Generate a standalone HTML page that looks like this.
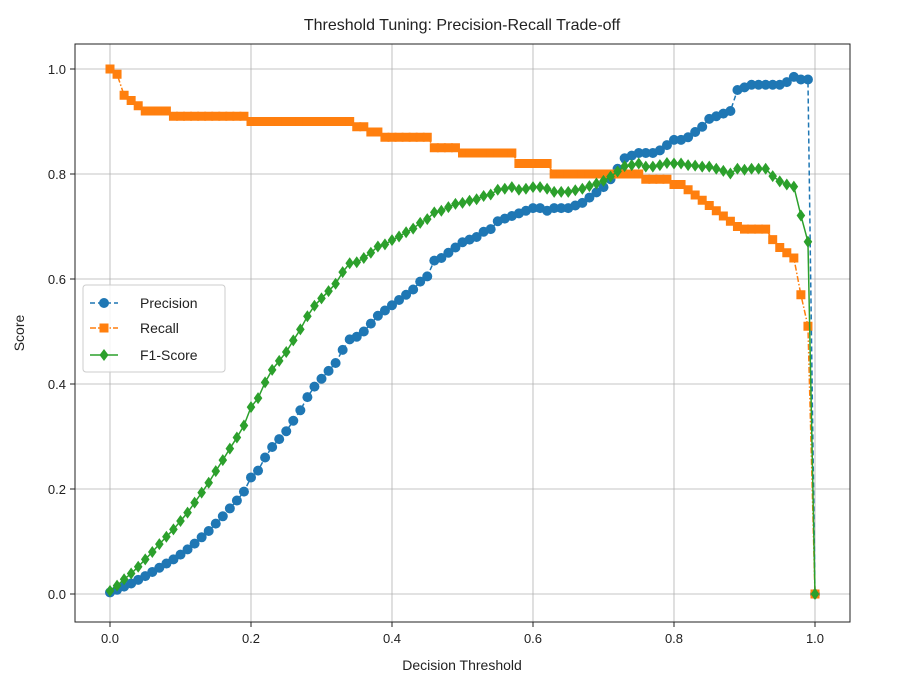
<!DOCTYPE html>
<html><head><meta charset="utf-8"><style>
body{margin:0;background:#fff}
svg text{font-family:"Liberation Sans","DejaVu Sans",sans-serif;fill:#222}
</style></head><body>
<svg id="chart" width="913" height="684" xmlns="http://www.w3.org/2000/svg">
<rect width="913" height="684" fill="#fff"/>
<text x="462" y="30" text-anchor="middle" font-size="16">Threshold Tuning: Precision-Recall Trade-off</text>
<g id="grid"></g>
<g id="series"></g>
<rect x="75" y="44" width="775" height="578" fill="none" stroke="#222" stroke-width="1"/>
<g id="ticks"></g>
<text x="462" y="670" text-anchor="middle" font-size="14">Decision Threshold</text>
<text x="24" y="333" text-anchor="middle" font-size="14" transform="rotate(-90 24 333)">Score</text>
<g>
<rect x="83" y="285" width="142" height="87" rx="3" fill="#fff" fill-opacity="0.85" stroke="#ccc"/>
<g>
<line x1="90" y1="303" x2="118" y2="303" stroke="#1f77b4" stroke-width="1.5" stroke-dasharray="5,3"/>
<circle cx="104" cy="303" r="5" fill="#1f77b4"/>
<text x="140" y="308" font-size="14">Precision</text></g>
<g>
<line x1="90" y1="328" x2="118" y2="328" stroke="#ff7f0e" stroke-width="1.5" stroke-dasharray="6,2,1.5,2"/>
<rect x="99.5" y="323.5" width="9" height="9" fill="#ff7f0e"/>
<text x="140" y="333" font-size="14">Recall</text></g>
<g>
<line x1="90" y1="355" x2="118" y2="355" stroke="#2ca02c" stroke-width="1.5"/>
<polygon points="104,349 108.5,355 104,361 99.5,355" fill="#2ca02c"/>
<text x="140" y="360" font-size="14">F1-Score</text></g>
</g>
</svg>
<script>
const xTicks=[0,0.2,0.4,0.6,0.8,1.0];
const xTickLabels=["0.0","0.2","0.4","0.6","0.8","1.0"];
const yTicks=[0,0.2,0.4,0.6,0.8,1.0];
const yTickLabels=["0.0","0.2","0.4","0.6","0.8","1.0"];
const precision=[0.003,0.008,0.014,0.02,0.027,0.034,0.042,0.05,0.058,0.066,
0.075,0.085,0.096,0.108,0.12,0.134,0.148,0.163,0.178,0.195,
0.222,0.235,0.26,0.28,0.295,0.31,0.33,0.35,0.375,0.395,
0.41,0.425,0.44,0.465,0.485,0.49,0.5,0.515,0.53,0.54,
0.55,0.56,0.57,0.58,0.595,0.605,0.635,0.64,0.65,0.66,
0.67,0.675,0.68,0.69,0.695,0.71,0.715,0.72,0.725,0.73,
0.735,0.735,0.73,0.735,0.735,0.735,0.74,0.745,0.755,0.765,
0.775,0.79,0.81,0.83,0.835,0.84,0.84,0.84,0.845,0.855,
0.865,0.865,0.87,0.88,0.89,0.905,0.91,0.915,0.92,0.96,
0.965,0.97,0.97,0.97,0.97,0.97,0.975,0.985,0.98,0.98,0];
const recall=[1,0.99,0.95,0.94,0.93,0.92,0.92,0.92,0.92,0.91,
0.91,0.91,0.91,0.91,0.91,0.91,0.91,0.91,0.91,0.91,
0.9,0.9,0.9,0.9,0.9,0.9,0.9,0.9,0.9,0.9,
0.9,0.9,0.9,0.9,0.9,0.89,0.89,0.88,0.88,0.87,
0.87,0.87,0.87,0.87,0.87,0.87,0.85,0.85,0.85,0.85,
0.84,0.84,0.84,0.84,0.84,0.84,0.84,0.84,0.82,0.82,
0.82,0.82,0.82,0.8,0.8,0.8,0.8,0.8,0.8,0.8,
0.8,0.8,0.8,0.8,0.8,0.8,0.79,0.79,0.79,0.79,
0.78,0.78,0.77,0.76,0.75,0.74,0.73,0.72,0.71,0.7,
0.695,0.695,0.695,0.695,0.675,0.66,0.65,0.64,0.57,0.51,0];
const f1=[0.006,0.016,0.028,0.039,0.052,0.066,0.08,0.095,0.109,0.123,
0.139,0.155,0.174,0.193,0.212,0.234,0.255,0.277,0.298,0.321,
0.356,0.373,0.403,0.427,0.444,0.461,0.483,0.504,0.529,0.549,
0.563,0.577,0.591,0.613,0.63,0.632,0.64,0.65,0.662,0.666,
0.674,0.681,0.689,0.696,0.707,0.714,0.727,0.73,0.737,0.743,
0.745,0.749,0.752,0.758,0.761,0.77,0.772,0.775,0.77,0.772,
0.775,0.775,0.772,0.766,0.766,0.766,0.769,0.772,0.777,0.782,
0.787,0.795,0.805,0.815,0.817,0.82,0.814,0.814,0.817,0.821,
0.82,0.82,0.817,0.816,0.814,0.814,0.81,0.806,0.801,0.81,
0.808,0.81,0.81,0.81,0.796,0.786,0.78,0.776,0.721,0.671,0];
const thresholdStep=0.01;

const NS="http://www.w3.org/2000/svg";
const X=v=>110+705*v;
const Y=v=>594-525*v;
const grid=document.getElementById('grid');
const ticks=document.getElementById('ticks');
function mk(tag,attrs,parent){const e=document.createElementNS(NS,tag);for(const k in attrs)e.setAttribute(k,attrs[k]);parent.appendChild(e);return e;}
xTicks.forEach((v,i)=>{
  const g=mk('line',{x1:X(v),x2:X(v),y1:44,y2:622,stroke:'#b0b0b0','stroke-width':0.8},grid);
  
  
  mk('line',{x1:X(v),x2:X(v),y1:622,y2:627,stroke:'#222'},ticks);
  const t=mk('text',{x:X(v),y:643,'text-anchor':'middle','font-size':13},ticks);
  t.textContent=xTickLabels[i];
  
  
});
yTicks.forEach((v,i)=>{
  const g=mk('line',{x1:75,x2:850,y1:Y(v),y2:Y(v),stroke:'#b0b0b0','stroke-width':0.8},grid);
  
  
  mk('line',{x1:70,x2:75,y1:Y(v),y2:Y(v),stroke:'#222'},ticks);
  const t=mk('text',{x:66,y:Y(v)+5,'text-anchor':'end','font-size':13},ticks);
  t.textContent=yTickLabels[i];
  
  
});
const series=document.getElementById('series');
function draw(vals,color,dash,shape,name){
  const g=mk('g',{},series);
  
  
  const pts=vals.map((v,i)=>X(i*thresholdStep).toFixed(2)+','+Y(v).toFixed(2)).join(' ');
  const attrs={points:pts,fill:'none',stroke:color,'stroke-width':1.5};
  if(dash)attrs['stroke-dasharray']=dash;
  const pl=mk('polyline',attrs,g);
  
  
  vals.forEach((v,i)=>{
    const x=X(i*thresholdStep),y=Y(v);let m;
    if(shape==='circle')m=mk('circle',{cx:x,cy:y,r:5,fill:color},g);
    else if(shape==='square')m=mk('rect',{x:x-4.5,y:y-4.5,width:9,height:9,fill:color},g);
    else m=mk('polygon',{points:`${x},${y-6} ${x+4.3},${y} ${x},${y+6} ${x-4.3},${y}`,fill:color},g);
    
    
  });
}
draw(precision,'#1f77b4','5,3','circle','precision');
draw(recall,'#ff7f0e','6,2,1.5,2','square','recall');
draw(f1,'#2ca02c',null,'diamond','f1-score');
</script>
</body></html>
